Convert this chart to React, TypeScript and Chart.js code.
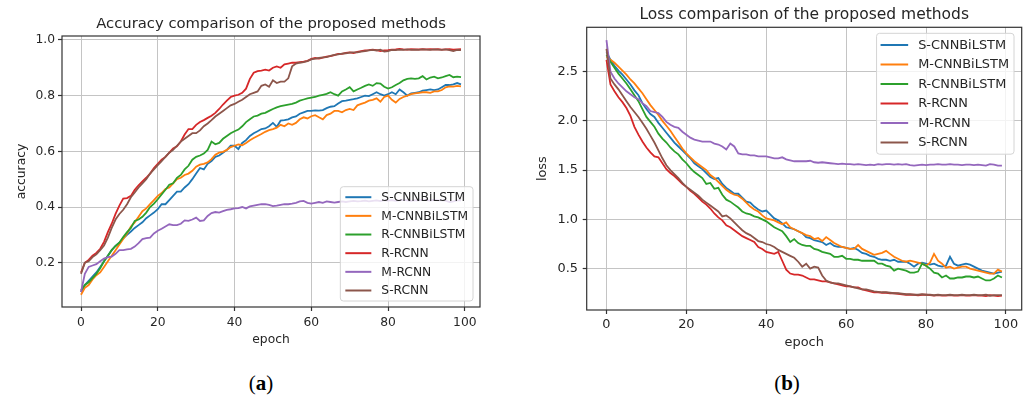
import React, { useEffect, useRef } from "react";
import { Chart, registerables } from "chart.js";

Chart.register(...registerables);

// ---------- data ----------
const epochs: number[] = Array.from({ length: 100 }, (_, i) => i);
const seriesNames = ["S-CNNBiLSTM", "M-CNNBiLSTM", "R-CNNBiLSTM", "R-RCNN", "M-RCNN", "S-RCNN"];
const seriesColors = ["#1f77b4", "#ff7f0e", "#2ca02c", "#d62728", "#9467bd", "#8c564b"];

const xTickValues = [0, 20, 40, 60, 80, 100];
const accYTickValues = [0.2, 0.4, 0.6, 0.8, 1.0];
const lossYTickValues = [0.5, 1.0, 1.5, 2.0, 2.5];

// accuracy
const accSCNNBiLSTM = [
  0.095, 0.120, 0.135, 0.150, 0.165, 0.185, 0.205, 0.225, 0.245, 0.260,
  0.272, 0.288, 0.300, 0.312, 0.325, 0.335, 0.345, 0.360, 0.370, 0.380,
  0.392, 0.410, 0.410, 0.425, 0.440, 0.455, 0.455, 0.470, 0.482, 0.500,
  0.520, 0.540, 0.535, 0.555, 0.565, 0.580, 0.585, 0.595, 0.605, 0.620,
  0.620, 0.608, 0.630, 0.640, 0.655, 0.665, 0.672, 0.680, 0.682, 0.690,
  0.702, 0.688, 0.710, 0.712, 0.715, 0.722, 0.725, 0.735, 0.740, 0.745,
  0.745, 0.747, 0.746, 0.748, 0.755, 0.760, 0.762, 0.772, 0.780, 0.782,
  0.785, 0.787, 0.790, 0.795, 0.800, 0.798, 0.805, 0.812, 0.805, 0.800,
  0.805, 0.812, 0.805, 0.822, 0.812, 0.800, 0.808, 0.810, 0.812, 0.818,
  0.820, 0.822, 0.820, 0.822, 0.830, 0.838, 0.838, 0.840, 0.845, 0.840,
];
const accMCNNBiLSTM = [
  0.085, 0.110, 0.120, 0.140, 0.155, 0.165, 0.185, 0.205, 0.225, 0.245,
  0.265, 0.285, 0.305, 0.330, 0.345, 0.365, 0.385, 0.395, 0.410, 0.425,
  0.440, 0.450, 0.465, 0.470, 0.485, 0.500, 0.505, 0.515, 0.520, 0.530,
  0.545, 0.552, 0.555, 0.560, 0.572, 0.588, 0.595, 0.598, 0.605, 0.615,
  0.620, 0.625, 0.622, 0.630, 0.640, 0.648, 0.655, 0.662, 0.670, 0.676,
  0.680, 0.685, 0.695, 0.690, 0.700, 0.695, 0.702, 0.715, 0.722, 0.718,
  0.726, 0.730, 0.722, 0.715, 0.730, 0.735, 0.745, 0.745, 0.740, 0.748,
  0.752, 0.748, 0.765, 0.770, 0.775, 0.782, 0.785, 0.790, 0.778, 0.795,
  0.800, 0.785, 0.775, 0.788, 0.795, 0.800, 0.805, 0.808, 0.810, 0.812,
  0.812, 0.810, 0.815, 0.815, 0.820, 0.830, 0.833, 0.832, 0.835, 0.833,
];
const accRCNNBiLSTM = [
  0.100, 0.120, 0.130, 0.145, 0.160, 0.180, 0.205, 0.225, 0.245, 0.260,
  0.272, 0.292, 0.310, 0.325, 0.350, 0.355, 0.365, 0.380, 0.400, 0.412,
  0.428, 0.445, 0.462, 0.480, 0.485, 0.505, 0.515, 0.535, 0.548, 0.570,
  0.580, 0.585, 0.592, 0.605, 0.635, 0.625, 0.630, 0.645, 0.655, 0.665,
  0.672, 0.678, 0.690, 0.705, 0.715, 0.725, 0.728, 0.735, 0.738, 0.745,
  0.752, 0.758, 0.762, 0.765, 0.768, 0.770, 0.775, 0.782, 0.786, 0.790,
  0.793, 0.795, 0.800, 0.803, 0.806, 0.812, 0.805, 0.800, 0.815, 0.822,
  0.830, 0.815, 0.822, 0.828, 0.835, 0.840, 0.835, 0.845, 0.843, 0.832,
  0.825, 0.830, 0.838, 0.845, 0.855, 0.860, 0.862, 0.860, 0.862, 0.870,
  0.858, 0.865, 0.868, 0.862, 0.865, 0.870, 0.874, 0.866, 0.868, 0.866,
];
const accRRCNN = [
  0.165, 0.200, 0.210, 0.225, 0.235, 0.250, 0.275, 0.310, 0.340, 0.375,
  0.405, 0.430, 0.432, 0.440, 0.462, 0.478, 0.492, 0.505, 0.520, 0.540,
  0.555, 0.570, 0.580, 0.595, 0.610, 0.618, 0.635, 0.660, 0.680, 0.680,
  0.695, 0.705, 0.712, 0.720, 0.728, 0.738, 0.752, 0.768, 0.782, 0.795,
  0.800, 0.803, 0.810, 0.825, 0.860, 0.882, 0.888, 0.890, 0.893, 0.890,
  0.900, 0.905, 0.900, 0.912, 0.915, 0.918, 0.918, 0.920, 0.922, 0.925,
  0.932, 0.935, 0.933, 0.936, 0.940, 0.942, 0.945, 0.950, 0.950, 0.953,
  0.955, 0.953, 0.957, 0.960, 0.962, 0.963, 0.965, 0.963, 0.960, 0.962,
  0.963, 0.965, 0.966, 0.968, 0.966, 0.965, 0.967, 0.966, 0.966, 0.967,
  0.966, 0.967, 0.966, 0.967, 0.965, 0.966, 0.967, 0.965, 0.966, 0.967,
];
const accMRCNN = [
  0.095, 0.160, 0.185, 0.190, 0.195, 0.205, 0.215, 0.220, 0.222, 0.232,
  0.245, 0.245, 0.248, 0.250, 0.258, 0.270, 0.285, 0.288, 0.290, 0.305,
  0.315, 0.322, 0.330, 0.338, 0.335, 0.335, 0.340, 0.352, 0.350, 0.355,
  0.362, 0.350, 0.352, 0.368, 0.378, 0.382, 0.380, 0.385, 0.390, 0.392,
  0.395, 0.396, 0.400, 0.395, 0.402, 0.405, 0.408, 0.410, 0.410, 0.408,
  0.403, 0.405, 0.408, 0.410, 0.410, 0.412, 0.415, 0.420, 0.422, 0.415,
  0.412, 0.415, 0.418, 0.415, 0.420, 0.418, 0.416, 0.418, 0.420, 0.418,
  0.420, 0.422, 0.420, 0.421, 0.423, 0.420, 0.422, 0.424, 0.421, 0.425,
  0.423, 0.425, 0.422, 0.424, 0.426, 0.424, 0.422, 0.425, 0.424, 0.426,
  0.425, 0.423, 0.426, 0.424, 0.425, 0.423, 0.418, 0.420, 0.424, 0.424,
];
const accSRCNN = [
  0.160, 0.200, 0.205, 0.220, 0.230, 0.245, 0.262, 0.290, 0.325, 0.355,
  0.375, 0.390, 0.410, 0.435, 0.452, 0.470, 0.485, 0.500, 0.520, 0.535,
  0.550, 0.565, 0.580, 0.595, 0.605, 0.620, 0.635, 0.645, 0.655, 0.665,
  0.665, 0.675, 0.690, 0.700, 0.712, 0.725, 0.735, 0.745, 0.755, 0.765,
  0.770, 0.778, 0.785, 0.795, 0.805, 0.810, 0.815, 0.835, 0.840, 0.832,
  0.855, 0.845, 0.850, 0.850, 0.862, 0.905, 0.915, 0.918, 0.920, 0.924,
  0.930, 0.933, 0.935, 0.937, 0.938, 0.943, 0.946, 0.948, 0.951, 0.952,
  0.954, 0.955, 0.955, 0.958, 0.960, 0.962, 0.964, 0.962, 0.965, 0.958,
  0.960, 0.964, 0.963, 0.965, 0.964, 0.966, 0.964, 0.965, 0.964, 0.966,
  0.965, 0.964, 0.966, 0.965, 0.964, 0.966, 0.963, 0.960, 0.964, 0.963,
];

// loss
const lossSCNNBiLSTM = [
  2.70, 2.62, 2.56, 2.51, 2.47, 2.42, 2.37, 2.31, 2.26, 2.18,
  2.12, 2.07, 2.04, 1.98, 1.93, 1.88, 1.83, 1.78, 1.74, 1.70,
  1.66, 1.62, 1.57, 1.54, 1.51, 1.47, 1.43, 1.41, 1.42, 1.36,
  1.32, 1.29, 1.26, 1.26, 1.22, 1.18, 1.17, 1.13, 1.10, 1.08,
  1.09, 1.05, 1.01, 0.99, 0.96, 0.92, 0.91, 0.90, 0.88, 0.86,
  0.82, 0.81, 0.79, 0.78, 0.77, 0.74, 0.76, 0.73, 0.72, 0.72,
  0.71, 0.70, 0.71, 0.69, 0.66, 0.65, 0.63, 0.62, 0.60, 0.59,
  0.59, 0.58, 0.59, 0.57, 0.57, 0.57, 0.55, 0.52, 0.55, 0.56,
  0.55, 0.54, 0.55, 0.53, 0.52, 0.53, 0.62, 0.55, 0.53, 0.54,
  0.55, 0.54, 0.52, 0.50, 0.48, 0.47, 0.46, 0.45, 0.46, 0.47,
];
const lossMCNNBiLSTM = [
  2.65, 2.62, 2.59, 2.55, 2.51, 2.47, 2.42, 2.38, 2.33, 2.28,
  2.22, 2.16, 2.11, 2.06, 2.00, 1.95, 1.90, 1.84, 1.78, 1.72,
  1.67, 1.63, 1.59, 1.56, 1.53, 1.50, 1.45, 1.42, 1.38, 1.34,
  1.30, 1.27, 1.25, 1.24, 1.21, 1.17, 1.13, 1.10, 1.08, 1.04,
  1.01, 1.00, 0.99, 0.97, 0.95, 0.97, 0.92, 0.90, 0.88, 0.86,
  0.84, 0.83, 0.80, 0.81, 0.78, 0.82, 0.79, 0.76, 0.74, 0.72,
  0.71, 0.70, 0.70, 0.74, 0.70, 0.68, 0.66, 0.64, 0.65, 0.66,
  0.68, 0.65, 0.62, 0.60, 0.58, 0.57, 0.58, 0.57, 0.56, 0.55,
  0.53, 0.56, 0.65, 0.58, 0.55, 0.51, 0.52, 0.50, 0.51, 0.52,
  0.52, 0.50, 0.49, 0.48, 0.47, 0.46, 0.45, 0.45, 0.49, 0.47,
];
const lossRCNNBiLSTM = [
  2.67, 2.60, 2.54, 2.48, 2.43, 2.38, 2.32, 2.26, 2.20, 2.12,
  2.04, 1.99, 1.94, 1.87, 1.82, 1.78, 1.73, 1.69, 1.66, 1.61,
  1.57, 1.52, 1.48, 1.45, 1.42, 1.36, 1.37, 1.31, 1.32, 1.25,
  1.20, 1.18, 1.15, 1.12, 1.08, 1.06, 1.05, 1.03, 1.02, 1.00,
  0.98, 0.95, 0.92, 0.90, 0.88, 0.83, 0.77, 0.80, 0.76, 0.74,
  0.73, 0.73, 0.70, 0.69, 0.67, 0.66, 0.65, 0.62, 0.62, 0.63,
  0.60, 0.60, 0.59, 0.59, 0.58, 0.58, 0.58, 0.58, 0.55, 0.55,
  0.53, 0.52, 0.48, 0.50, 0.49, 0.48, 0.46, 0.46, 0.47, 0.55,
  0.53, 0.50, 0.46, 0.45, 0.41, 0.43, 0.40, 0.40, 0.41, 0.41,
  0.42, 0.42, 0.41, 0.42, 0.40, 0.38, 0.38, 0.40, 0.43, 0.41,
];
const lossRRCNN = [
  2.62, 2.37, 2.30, 2.24, 2.19, 2.13, 2.05, 1.94, 1.86, 1.79,
  1.73, 1.68, 1.64, 1.63, 1.57, 1.51, 1.47, 1.44, 1.40, 1.36,
  1.33, 1.29, 1.26, 1.22, 1.18, 1.15, 1.11, 1.06, 1.02, 0.99,
  0.94, 0.92, 0.89, 0.86, 0.83, 0.81, 0.79, 0.77, 0.72, 0.70,
  0.67, 0.66, 0.65, 0.67, 0.58, 0.49, 0.45, 0.44, 0.44, 0.43,
  0.41, 0.39, 0.39, 0.38, 0.37, 0.37, 0.36, 0.35, 0.34, 0.33,
  0.32, 0.32, 0.31, 0.31, 0.29, 0.28, 0.27, 0.26, 0.26, 0.255,
  0.255, 0.25, 0.25, 0.245, 0.24, 0.235, 0.235, 0.235, 0.23, 0.235,
  0.235, 0.23, 0.225, 0.23, 0.225, 0.225, 0.23, 0.225, 0.225, 0.23,
  0.225, 0.225, 0.23, 0.225, 0.225, 0.22, 0.23, 0.225, 0.22, 0.225,
];
const lossMRCNN = [
  2.82, 2.50, 2.43, 2.38, 2.34, 2.30, 2.27, 2.24, 2.22, 2.18,
  2.15, 2.10, 2.09, 2.08, 2.04, 1.99, 1.96, 1.94, 1.93, 1.89,
  1.86, 1.83, 1.81, 1.80, 1.79, 1.79, 1.79, 1.77, 1.76, 1.74,
  1.71, 1.77, 1.74, 1.67, 1.66, 1.66, 1.65, 1.65, 1.64, 1.64,
  1.64, 1.63, 1.62, 1.62, 1.63, 1.61, 1.60, 1.59, 1.59, 1.59,
  1.59, 1.595, 1.58, 1.575, 1.58, 1.575, 1.57, 1.565, 1.56, 1.565,
  1.56, 1.56, 1.555, 1.56, 1.555, 1.55, 1.555, 1.55, 1.56, 1.555,
  1.56, 1.56, 1.555, 1.56, 1.555, 1.56, 1.55, 1.545, 1.55, 1.555,
  1.55, 1.555, 1.555, 1.56, 1.555, 1.555, 1.56, 1.555, 1.555, 1.55,
  1.555, 1.555, 1.55, 1.555, 1.55, 1.545, 1.56, 1.555, 1.545, 1.545,
];
const lossSRCNN = [
  2.73, 2.43, 2.37, 2.32, 2.26, 2.20, 2.14, 2.09, 2.04, 1.98,
  1.92, 1.85, 1.78, 1.70, 1.62, 1.55, 1.50, 1.46, 1.42, 1.37,
  1.33, 1.30, 1.27, 1.24, 1.20, 1.17, 1.14, 1.11, 1.08, 1.03,
  1.04, 1.01, 0.97, 0.93, 0.89, 0.86, 0.84, 0.81, 0.78, 0.77,
  0.75, 0.74, 0.72, 0.69, 0.67, 0.65, 0.63, 0.61, 0.57, 0.52,
  0.55, 0.50, 0.52, 0.51, 0.43, 0.38, 0.36, 0.35, 0.35, 0.34,
  0.33, 0.32, 0.31, 0.30, 0.29, 0.29, 0.28, 0.27, 0.265, 0.26,
  0.26, 0.255, 0.25, 0.25, 0.245, 0.24, 0.24, 0.235, 0.235, 0.24,
  0.235, 0.235, 0.23, 0.235, 0.23, 0.23, 0.235, 0.23, 0.23, 0.235,
  0.23, 0.23, 0.235, 0.23, 0.23, 0.235, 0.225, 0.23, 0.23, 0.23,
];

// ---------- layout config ----------
const FONT = "'DejaVu Sans', sans-serif";

interface PanelCfg {
  title: string;
  xLabel: string;
  yLabel: string;
  series: number[][];
  yTicks: number[];
  xMin: number; xMax: number; yMin: number; yMax: number;
  canvasLeft: number; canvasWidth: number; canvasHeight: number;
  area: { left: number; top: number; right: number; bottom: number };
  titleSize: number; tickSize: number; labelSize: number; legendSize: number;
  titleCenterY: number;
  xTickPad: number; yTickPad: number;
  xTitlePadBottom: number; yTitlePadTop: number;
  legend: {
    corner: "lr" | "ur"; insetX: number; insetY: number;
    rowH: number; firstRow: number; padL: number; handle: number; gap: number; padR: number;
  };
}

const panels: PanelCfg[] = [
  {
    title: "Accuracy comparison of the proposed methods",
    xLabel: "epoch", yLabel: "accuracy",
    series: [accSCNNBiLSTM, accMCNNBiLSTM, accRCNNBiLSTM, accRRCNN, accMRCNN, accSRCNN],
    yTicks: accYTickValues,
    xMin: -4.95, xMax: 103.95, yMin: 0.041, yMax: 1.014,
    canvasLeft: 0, canvasWidth: 500, canvasHeight: 350,
    area: { left: 62, top: 36, right: 480, bottom: 307 },
    titleSize: 14.8, tickSize: 12.3, labelSize: 12.3, legendSize: 12.3,
    titleCenterY: 24,
    xTickPad: 4, yTickPad: 3,
    xTitlePadBottom: 2.6, yTitlePadTop: 14.3,
    legend: { corner: "lr", insetX: 7, insetY: 6, rowH: 18.66, firstRow: 10.5, padL: 5, handle: 26, gap: 10, padR: 5 },
  },
  {
    title: "Loss comparison of the proposed methods",
    xLabel: "epoch", yLabel: "loss",
    series: [lossSCNNBiLSTM, lossMCNNBiLSTM, lossRCNNBiLSTM, lossRRCNN, lossMRCNN, lossSRCNN],
    yTicks: lossYTickValues,
    xMin: -4.95, xMax: 103.95, yMin: 0.08, yMax: 2.95,
    canvasLeft: 510, canvasWidth: 516, canvasHeight: 355,
    area: { left: 76.7, top: 27.3, right: 511.7, bottom: 310 },
    titleSize: 15.5, tickSize: 12.9, labelSize: 12.9, legendSize: 12.9,
    titleCenterY: 15,
    xTickPad: 3.3, yTickPad: 4.7,
    xTitlePadBottom: 4.3, yTitlePadTop: 25.3,
    legend: { corner: "ur", insetX: 7.7, insetY: 6, rowH: 19.5, firstRow: 11.7, padL: 4, handle: 27.6, gap: 10, padR: 5 },
  },
];

const TEXT = "#262626";
const GRID = "#c4c4c4";
const SPINE = "#333333";

function makeFramePlugin(cfg: PanelCfg) {
  return {
    id: "mplFrameLegend",
    afterDatasetsDraw(chart: any) {
      const ctx: CanvasRenderingContext2D = chart.ctx;
      const a = chart.chartArea;
      ctx.save();
      // spines
      ctx.strokeStyle = SPINE;
      ctx.lineWidth = 1.2;
      ctx.strokeRect(a.left, a.top, a.right - a.left, a.bottom - a.top);
      // title centred over the plot area
      ctx.font = `${cfg.titleSize}px ${FONT}`;
      ctx.fillStyle = TEXT;
      ctx.textAlign = "center";
      ctx.textBaseline = "middle";
      ctx.fillText(cfg.title, (a.left + a.right) / 2, cfg.titleCenterY);
      // legend
      const L = cfg.legend;
      ctx.font = `${cfg.legendSize}px ${FONT}`;
      const textW = Math.max(...seriesNames.map((n) => ctx.measureText(n).width));
      const w = L.padL + L.handle + L.gap + textW + L.padR;
      const h = L.firstRow * 2 + L.rowH * (seriesNames.length - 1);
      const x0 = a.right - L.insetX - w;
      const y0 = L.corner === "lr" ? a.bottom - L.insetY - h : a.top + L.insetY;
      ctx.beginPath();
      const r = 3;
      ctx.moveTo(x0 + r, y0);
      ctx.lineTo(x0 + w - r, y0);
      ctx.quadraticCurveTo(x0 + w, y0, x0 + w, y0 + r);
      ctx.lineTo(x0 + w, y0 + h - r);
      ctx.quadraticCurveTo(x0 + w, y0 + h, x0 + w - r, y0 + h);
      ctx.lineTo(x0 + r, y0 + h);
      ctx.quadraticCurveTo(x0, y0 + h, x0, y0 + h - r);
      ctx.lineTo(x0, y0 + r);
      ctx.quadraticCurveTo(x0, y0, x0 + r, y0);
      ctx.closePath();
      ctx.fillStyle = "rgba(255,255,255,0.8)";
      ctx.fill();
      ctx.strokeStyle = "#d4d4d4";
      ctx.lineWidth = 1;
      ctx.stroke();
      ctx.textBaseline = "middle";
      ctx.textAlign = "left";
      seriesNames.forEach((name, i) => {
        const y = y0 + L.firstRow + i * L.rowH;
        ctx.strokeStyle = seriesColors[i];
        ctx.lineWidth = 2;
        ctx.beginPath();
        ctx.moveTo(x0 + L.padL, y);
        ctx.lineTo(x0 + L.padL + L.handle, y);
        ctx.stroke();
        ctx.fillStyle = TEXT;
        ctx.fillText(name, x0 + L.padL + L.handle + L.gap, y + 0.5);
      });
      ctx.restore();
    },
  };
}

function Panel({ cfg }: { cfg: PanelCfg }) {
  const ref = useRef<HTMLCanvasElement | null>(null);
  useEffect(() => {
    if (!ref.current) return;
    const A = cfg.area;
    const chart = new Chart(ref.current, {
      type: "line",
      data: {
        datasets: cfg.series.map((vals, i) => ({
          label: seriesNames[i],
          data: epochs.map((e, j) => ({ x: e, y: vals[j] })),
          borderColor: seriesColors[i],
          backgroundColor: seriesColors[i],
          borderWidth: 1.8,
          pointRadius: 0,
          pointHoverRadius: 0,
          tension: 0,
          fill: false,
          order: cfg.series.length - i,
        })),
      },
      options: {
        responsive: false,
        animation: false,
        events: [],
        layout: { padding: { left: 0, top: A.top, bottom: 0, right: cfg.canvasWidth - A.right } },
        plugins: {
          legend: { display: false },
          tooltip: { enabled: false },
          title: { display: false },
        },
        scales: {
          x: {
            type: "linear",
            min: cfg.xMin,
            max: cfg.xMax,
            afterBuildTicks: (s: any) => {
              s.ticks = xTickValues.map((v) => ({ value: v }));
            },
            afterFit: (s: any) => {
              s.height = cfg.canvasHeight - A.bottom;
            },
            ticks: {
              color: TEXT,
              font: { family: FONT, size: cfg.tickSize, lineHeight: 1.2 },
              padding: cfg.xTickPad,
              maxRotation: 0,
              autoSkip: false,
              callback: (v: any) => String(v),
            },
            grid: { color: GRID, lineWidth: 1, tickLength: 4, tickColor: SPINE, tickWidth: 1.2, drawTicks: true },
            border: { display: false },
            title: {
              display: true,
              text: cfg.xLabel,
              color: TEXT,
              font: { family: FONT, size: cfg.labelSize, lineHeight: 1.2 },
              padding: { top: 0, bottom: cfg.xTitlePadBottom },
            },
          },
          y: {
            type: "linear",
            min: cfg.yMin,
            max: cfg.yMax,
            afterBuildTicks: (s: any) => {
              s.ticks = cfg.yTicks.map((v) => ({ value: v }));
            },
            afterFit: (s: any) => {
              s.width = A.left;
            },
            ticks: {
              color: TEXT,
              font: { family: FONT, size: cfg.tickSize, lineHeight: 1.2 },
              padding: cfg.yTickPad,
              autoSkip: false,
              callback: (v: any) => Number(v).toFixed(1),
            },
            grid: { color: GRID, lineWidth: 1, tickLength: 4, tickColor: SPINE, tickWidth: 1.2, drawTicks: true },
            border: { display: false },
            title: {
              display: true,
              text: cfg.yLabel,
              color: TEXT,
              font: { family: FONT, size: cfg.labelSize, lineHeight: 1.2 },
              padding: { top: cfg.yTitlePadTop, bottom: 0 },
            },
          },
        },
      } as any,
      plugins: [makeFramePlugin(cfg)],
    });
    return () => chart.destroy();
  }, [cfg]);
  return (
    <canvas
      ref={ref}
      width={cfg.canvasWidth}
      height={cfg.canvasHeight}
      style={{
        position: "absolute",
        left: cfg.canvasLeft,
        top: 0,
        width: cfg.canvasWidth,
        height: cfg.canvasHeight,
      }}
    />
  );
}

const captions = [
  { label: "a", center: 261 },
  { label: "b", center: 787 },
];

export default function App() {
  return (
    <div
      style={{
        position: "absolute",
        left: 0,
        top: 0,
        width: 1026,
        height: 401,
        background: "#ffffff",
        overflow: "hidden",
      }}
    >
      {panels.map((p, i) => (
        <Panel key={i} cfg={p} />
      ))}
      {captions.map((c, i) => (
        <div
          key={i}
          style={{
            position: "absolute",
            left: c.center - 40,
            width: 80,
            top: 370,
            textAlign: "center",
            fontFamily: "'Liberation Serif', 'DejaVu Serif', serif",
            fontSize: 21,
            lineHeight: "26px",
            color: "#000",
          }}
        >
          (<b>{c.label}</b>)
        </div>
      ))}
    </div>
  );
}
